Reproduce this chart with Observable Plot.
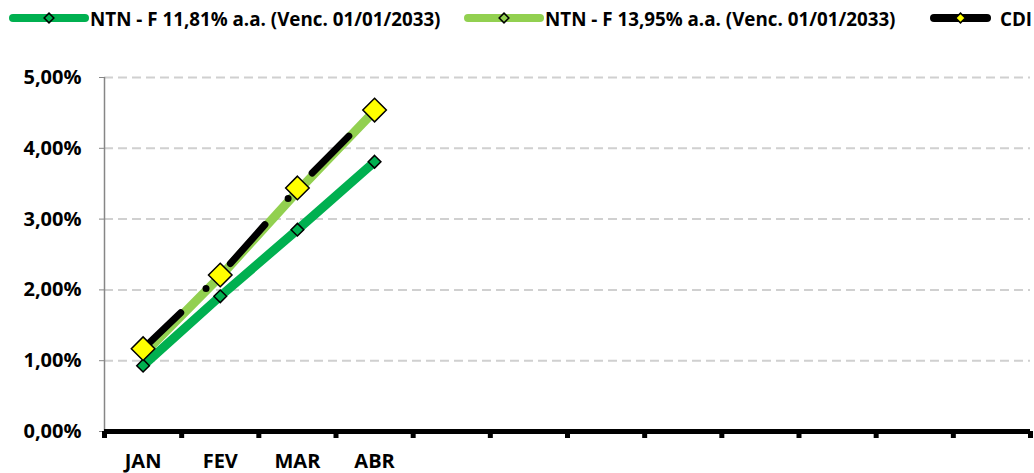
<!DOCTYPE html>
<html>
<head>
<meta charset="utf-8">
<script src="https://cdn.jsdelivr.net/npm/d3@7"></script>
<script src="https://cdn.jsdelivr.net/npm/@observablehq/plot@0.6"></script>
<style>
  html, body { margin: 0; padding: 0; background: #fff; }
  #wrap { width: 1034px; height: 473px; position: relative; overflow: hidden; }
  #legend { display: block; }
  #chart svg { display: block; }
</style>
</head>
<body>
<div id="wrap">
  <svg id="legend" width="1034" height="40"></svg>
  <div id="chart"></div>
</div>
<script>
// ---- data ----
const months = ["JAN", "FEV", "MAR", "ABR", "", "", "", "", "", "", "", ""];
const seriesNames = [
  "NTN - F 11,81% a.a. (Venc. 01/01/2033)",
  "NTN - F 13,95% a.a. (Venc. 01/01/2033)",
  "CDI"
];
const ntnF1181 = [0.93, 1.91, 2.85, 3.81];
const ntnF1395 = [1.09, 2.19, 3.39, 4.53];
const cdi = [1.17, 2.21, 3.44, 4.54];
const yTicks = [0, 1, 2, 3, 4, 5];

// ---- styles ----
const DARK = "#00B050", LIGHT = "#92D050", YELLOW = "#FFFF00";
const FONT = "'Open Sans', 'Liberation Sans', sans-serif";

const toRows = (vals) => vals.map((v, i) => ({x: i + 0.5, y: v, m: months[i]}));
const d1 = toRows(ntnF1181), d2 = toRows(ntnF1395), d3r = toRows(cdi);
const fmt = d => d.toFixed(2).replace(".", ",") + "%";

const plot = Plot.plot({
  width: 1034,
  height: 433,
  marginLeft: 104,
  marginRight: 4,
  marginTop: 37,
  marginBottom: 42,
  style: {fontFamily: FONT, fontSize: "20px", fontWeight: "bold", color: "#000", background: "#fff"},
  x: {type: "linear", domain: [0, months.length]},
  y: {domain: [0, 5]},
  marks: [
    Plot.gridY(yTicks.filter(d => d > 0), {stroke: "#d0d0d0", strokeOpacity: 1, strokeWidth: 2, strokeDasharray: "9,5"}),
    Plot.ruleX([0], {y1: 0, y2: 5, stroke: "#868686", strokeWidth: 1.5}),
    Plot.axisY(yTicks, {tickSize: 5, tickPadding: 18, stroke: "#868686", tickFormat: fmt, fill: "#000", fontWeight: "bold", fontSize: 20, label: null}),
    Plot.axisX(d3.range(months.length).map(i => i + 0.5), {tickSize: 0, tickPadding: 22, tickFormat: d => months[Math.floor(d)], fontWeight: "bold", fontSize: 20, fill: "#000", label: null}),
    Plot.axisX(d3.range(months.length + 1), {tickSize: 7, stroke: "#000", strokeWidth: 5, tickFormat: () => "", label: null}),
    Plot.ruleY([0], {stroke: "#000", strokeWidth: 5}),
    Plot.line(d1, {x: "x", y: "y", stroke: DARK, strokeWidth: 9}),
    Plot.line(d2, {x: "x", y: "y", stroke: LIGHT, strokeWidth: 9}),
    Plot.dot(d1, {x: "x", y: "y", symbol: "diamond2", r: 5.7, fill: DARK, stroke: "#000", strokeWidth: 1.5}),
    Plot.dot(d2, {x: "x", y: "y", symbol: "diamond2", r: 4.5, fill: LIGHT, stroke: "#000", strokeWidth: 1.5}),
    Plot.line(d3r, {x: "x", y: "y", stroke: "#000", strokeWidth: 7, strokeDasharray: "52,35,0,35", strokeLinecap: "round"}),
    Plot.dot(d3r, {x: "x", y: "y", symbol: "diamond2", r: 10.6, fill: YELLOW, stroke: "#000", strokeWidth: 1.5})
  ]
});
document.getElementById("chart").appendChild(plot);

// ---- legend ----
const lg = d3.select("#legend");
const legendItems = [
  {name: seriesNames[0], color: DARK, mark: DARK, x0: 13, x1: 85, tx: 90},
  {name: seriesNames[1], color: LIGHT, mark: LIGHT, x0: 468, x1: 540, tx: 545},
  {name: seriesNames[2], color: "#000", mark: YELLOW, x0: 934, x1: 987, tx: 1000}
];
const dia = d3.symbol(d3.symbolDiamond2, 60);
for (const it of legendItems) {
  const g = lg.append("g");
  g.append("line").attr("x1", it.x0).attr("x2", it.x1).attr("y1", 18).attr("y2", 18)
    .attr("stroke", it.color).attr("stroke-width", 8).attr("stroke-linecap", "round");
  g.append("path").attr("d", dia()).attr("transform", `translate(${(it.x0 + it.x1) / 2},18)`)
    .attr("fill", it.mark).attr("stroke", "#000").attr("stroke-width", 1.5);
  g.append("text").attr("x", it.tx).attr("y", 26).text(it.name)
    .attr("font-family", FONT).attr("font-weight", "bold").attr("font-size", 18.8).attr("fill", "#000");
}
</script>
</body>
</html>
